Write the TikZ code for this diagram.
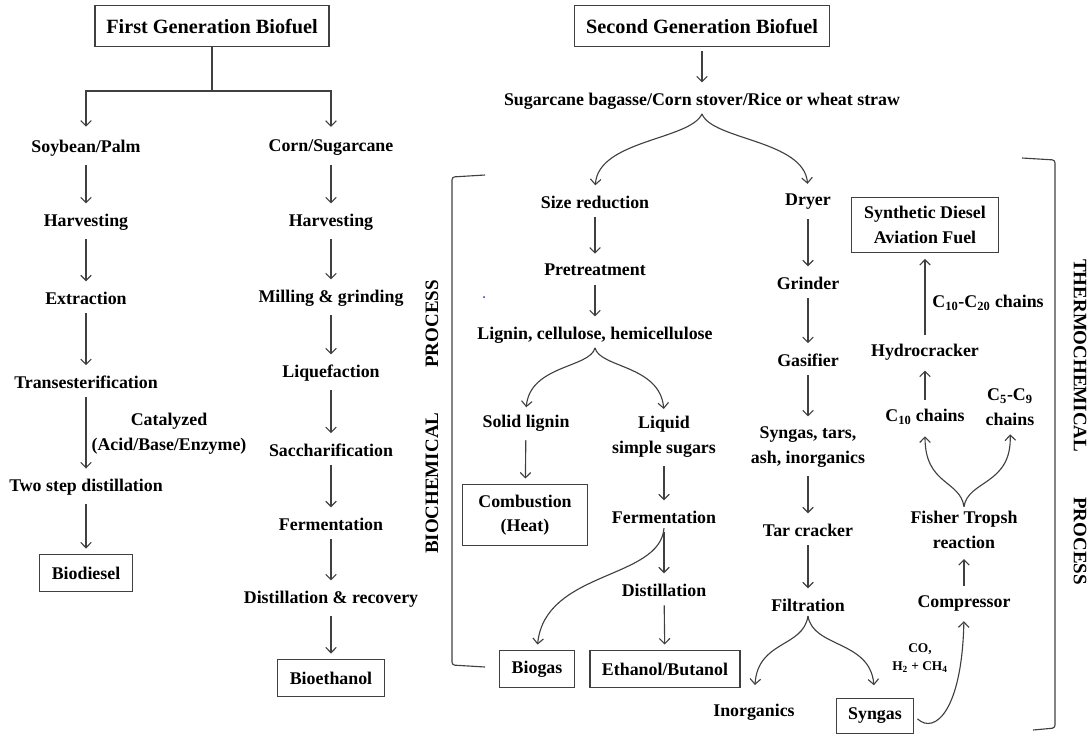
\documentclass[tikz,border=0pt]{standalone}
\usepackage{fontspec}
\setmainfont{Liberation Serif}
\usetikzlibrary{arrows.meta,positioning}

\tikzset{
  >={Straight Barb[length=3.8pt,width=7.5pt]},
  stage/.style={font=\fontsize{12.7}{17.5}\selectfont\bfseries, align=center, inner sep=3pt},
  outbox/.style={stage, draw=black!75, line width=0.8pt, inner xsep=8.5pt, inner ysep=5pt, minimum height=26pt},
  headbox/.style={outbox, font=\fontsize{14.4}{16}\selectfont\bfseries, inner xsep=8pt, minimum height=29pt},
  sidetag/.style={font=\fontsize{13.5}{15}\selectfont\bfseries, inner sep=0pt},
  note/.style={font=\fontsize{9.5}{12.5}\selectfont\bfseries, align=center, inner sep=1pt},
}

\begin{document}
\begin{tikzpicture}[x=0.025cm, y=-0.025cm, line width=0.8pt, draw=black!75]
\useasboundingbox (0,0) rectangle (1092,733);

% first generation
\node[headbox] (G1) at (212,26) {First Generation Biofuel};
\coordinate (fork1) at (212,91);
\node[stage] (oil) at (86,148) {Soybean/Palm};
\node[stage] (harvA) at (86,222) {Harvesting};
\node[stage] (extr) at (86,298) {Extraction};
\node[stage] (trans) at (86,382) {Transesterification};
\node[stage] (catal) at (169,434) {Catalyzed\\(Acid/Base/Enzyme)};
\node[stage] (twostep) at (86,487) {Two step distillation};
\node[outbox] (biodiesel) at (86,573) {Biodiesel};

\node[stage] (corn) at (331,148) {Corn/Sugarcane};
\node[stage] (harvB) at (331,222) {Harvesting};
\node[stage] (mill) at (331,298) {Milling \& grinding};
\node[stage] (liqf) at (331,373) {Liquefaction};
\node[stage] (sacch) at (331,450) {Saccharification};
\node[stage] (fermA) at (331,524) {Fermentation};
\node[stage] (recov) at (331,599) {Distillation \& recovery};
\node[outbox] (bioeth) at (331,678) {Bioethanol};

% second generation, biochemical side
\node[headbox] (G2) at (702,26) {Second Generation Biofuel};
\node[stage] (feed) at (702,101) {Sugarcane bagasse/Corn stover/Rice or wheat straw};
\node[stage] (sizer) at (595,202) {Size reduction};
\node[stage] (pretr) at (595,270) {Pretreatment};
\node[stage] (lcell) at (595,335) {Lignin, cellulose, hemicellulose};
\node[stage] (solid) at (526,423) {Solid lignin};
\node[stage] (liquid) at (664,437) {Liquid\\simple sugars};
\node[outbox, inner xsep=11pt, inner ysep=7pt] (combust) at (525,515) {Combustion\\(Heat)};
\node[stage] (fermB) at (664,517) {Fermentation};
\node[stage] (distB) at (664,590) {Distillation};
\node[outbox] (biogas) at (537,669) {Biogas};
\node[outbox] (ethbut) at (665,669) {Ethanol/Butanol};
\node[sidetag, rotate=90] (biotag) at (432,417) {BIOCHEMICAL\hspace{32pt}PROCESS};

% second generation, thermochemical side
\node[stage] (dryer) at (808,202) {Dryer};
\node[stage] (grind) at (808,283) {Grinder};
\node[stage] (gasif) at (808,360) {Gasifier};
\node[stage] (rawgas) at (808,447) {Syngas, tars,\\ash, inorganics};
\node[stage] (tarc) at (808,530) {Tar cracker};
\node[stage] (filt) at (808,605) {Filtration};
\node[stage] (inorg) at (754,712) {Inorganics};
\node[outbox, minimum height=25pt] (syngas) at (875,716) {Syngas};
\node[note] (gasmix) at (920,658) {CO,\\H\textsubscript{2} + CH\textsubscript{4}};
\node[stage] (compr) at (964,603) {Compressor};
\node[stage] (fisher) at (964,530) {Fisher Tropsh\\reaction};
\node[stage] (c10) at (925,417) {C\textsubscript{10} chains};
\node[stage] (c59) at (1010,407) {C\textsubscript{5}-C\textsubscript{9}\\chains};
\node[stage] (hydro) at (925,352) {Hydrocracker};
\node[stage] (c1020) at (988,303) {C\textsubscript{10}-C\textsubscript{20} chains};
\node[outbox, inner xsep=9pt, inner ysep=6.5pt] (synfuel) at (925,225) {Synthetic Diesel\\Aviation Fuel};
\node[sidetag, rotate=-90] (thermotag) at (1080,422) {THERMOCHEMICAL\hspace{32pt}PROCESS};

% brackets
\draw[rounded corners=2pt] (485,175) -- (452,177) -- (452,665) -- (485,667);
\draw[rounded corners=2pt] (1022,158) -- (1055,160) -- (1055,728) -- (1033,730);
\fill[blue] (484,297) circle (0.7pt);

% straight arrows
\draw (G1) -- (fork1);
\draw[->, shorten >=6pt] (fork1) -| (oil);
\draw[->, shorten >=6pt] (fork1) -| (corn);
\path[->, shorten >=4pt, shorten <=3pt]
(oil) edge (harvA)
(harvA) edge (extr)
(extr) edge (trans)
(trans) edge (twostep)
(twostep) edge (biodiesel)
(corn) edge (harvB)
(harvB) edge (mill)
(mill) edge (liqf)
(liqf) edge (sacch)
(sacch) edge (fermA)
(fermA) edge (recov)
(recov) edge (bioeth)
(G2) edge (feed)
(sizer) edge (pretr)
(pretr) edge (lcell)
(solid) edge (combust)
(liquid) edge (fermB)
(fermB) edge (distB)
(distB) edge (ethbut)
(dryer) edge (grind)
(grind) edge (gasif)
(gasif) edge (rawgas)
(rawgas) edge (tarc)
(tarc) edge (filt)
(compr) edge (fisher)
(c10) edge (hydro)
(hydro) edge (synfuel);

% curved splits
\draw[->, shorten >=4pt] (feed.south) .. controls (690,140) and (598,140) .. (sizer.north);
\draw[->, shorten >=4pt] (feed.south) .. controls (712,140) and (804,140) .. (dryer.north);
\draw[->, shorten >=2pt] (lcell.south) .. controls (590,368) and (530,365) .. (solid.north);
\draw[->, shorten >=2pt] (lcell.south) .. controls (600,368) and (660,365) .. (liquid.north);
\draw[->, shorten >=4pt] (fermB.south) .. controls (660,580) and (545,570) .. (biogas.north);
\draw[->, shorten >=10pt] (filt.south) .. controls (803,648) and (758,640) .. (inorg.north);
\draw[->, shorten >=9pt] (filt.south) .. controls (813,648) and (870,640) .. (syngas.north);
\draw[->, shorten <=3pt, shorten >=4pt] (syngas.east) .. controls (935,735) and (962,710) .. (compr.south);
\draw[->, shorten >=5pt] (fisher.north) .. controls (960,480) and (925,485) .. (c10.south);
\draw[->, shorten >=3pt] (fisher.north) .. controls (968,480) and (1012,485) .. (c59.south);
\end{tikzpicture}
\end{document}
